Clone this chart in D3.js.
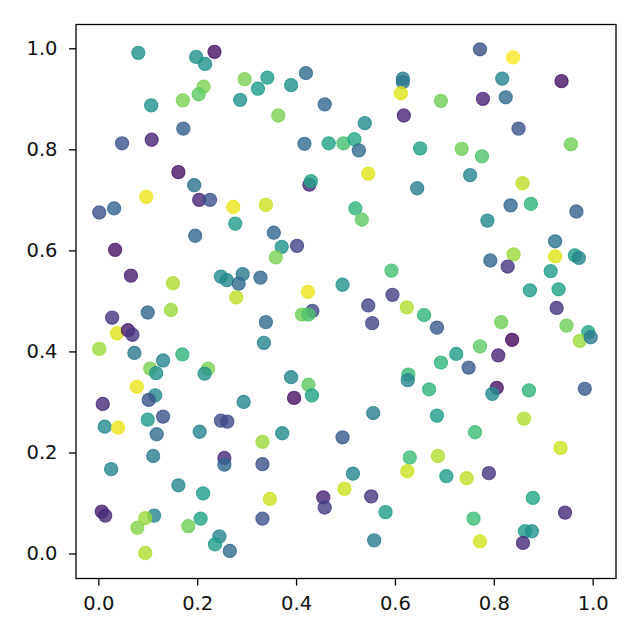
<!DOCTYPE html>
<html>
<head>
<meta charset="utf-8">
<script src="https://cdn.jsdelivr.net/npm/d3@7"></script>
<style>
html,body{margin:0;padding:0;background:#fff;}
svg{display:block;}
</style>
</head>
<body>
<svg id="chart" width="640" height="640"></svg>
<script>
const xs = [0.081,0.198,0.235,0.216,0.296,0.213,0.203,0.171,0.323,0.342,0.287,0.107,0.172,0.048,0.108,0.162,0.194,0.097,0.204,0.226,
0.273,0.339,0.002,0.032,0.390,0.420,0.458,0.364,0.616,0.616,0.612,0.693,0.618,0.539,0.417,0.466,0.496,0.518,0.527,0.651,
0.546,0.427,0.430,0.645,0.520,0.533,0.772,0.839,0.817,0.937,0.778,0.824,0.850,0.956,0.735,0.776,0.752,0.858,0.834,0.875,
0.967,0.787,0.277,0.196,0.034,0.066,0.151,0.248,0.260,0.292,0.284,0.328,0.279,0.028,0.100,0.147,0.038,0.060,0.069,0.002,
0.073,0.170,0.131,0.105,0.117,0.222,0.215,0.078,0.115,0.339,0.335,0.355,0.371,0.402,0.359,0.593,0.494,0.424,0.595,0.546,
0.624,0.659,0.685,0.433,0.412,0.425,0.554,0.693,0.390,0.425,0.396,0.432,0.627,0.626,0.669,0.924,0.840,0.793,0.828,0.924,
0.964,0.972,0.915,0.873,0.931,0.927,0.815,0.947,0.991,0.974,0.996,0.837,0.772,0.809,0.724,0.749,0.806,0.797,0.871,0.984,
0.102,0.009,0.294,0.013,0.040,0.100,0.131,0.118,0.205,0.248,0.261,0.111,0.026,0.255,0.255,0.332,0.332,0.162,0.212,0.007,
0.014,0.113,0.095,0.079,0.182,0.207,0.245,0.236,0.266,0.095,0.347,0.332,0.556,0.685,0.372,0.494,0.630,0.625,0.687,0.704,
0.515,0.498,0.455,0.458,0.552,0.581,0.558,0.861,0.762,0.935,0.745,0.790,0.879,0.944,0.759,0.863,0.877,0.859,0.772];
const ys = [0.991,0.983,0.993,0.969,0.939,0.924,0.909,0.897,0.920,0.942,0.898,0.887,0.841,0.812,0.819,0.755,0.729,0.706,0.700,0.700,
0.686,0.690,0.675,0.683,0.927,0.951,0.889,0.867,0.940,0.933,0.911,0.896,0.867,0.852,0.811,0.812,0.812,0.820,0.798,0.802,
0.752,0.730,0.737,0.723,0.683,0.661,0.998,0.982,0.940,0.935,0.900,0.903,0.841,0.810,0.801,0.786,0.749,0.733,0.689,0.692,
0.677,0.659,0.653,0.629,0.601,0.550,0.535,0.548,0.541,0.553,0.534,0.546,0.507,0.467,0.477,0.482,0.436,0.442,0.433,0.405,
0.397,0.394,0.382,0.366,0.357,0.366,0.356,0.330,0.313,0.458,0.417,0.635,0.607,0.609,0.586,0.560,0.532,0.518,0.512,0.491,
0.487,0.472,0.447,0.480,0.473,0.473,0.456,0.378,0.349,0.334,0.308,0.313,0.354,0.343,0.325,0.618,0.592,0.580,0.568,0.588,
0.590,0.585,0.559,0.521,0.523,0.486,0.458,0.451,0.438,0.421,0.428,0.423,0.410,0.392,0.395,0.368,0.328,0.316,0.323,0.326,
0.304,0.296,0.300,0.251,0.249,0.265,0.271,0.236,0.241,0.263,0.261,0.193,0.167,0.189,0.176,0.221,0.177,0.135,0.119,0.083,
0.075,0.075,0.070,0.051,0.054,0.069,0.034,0.018,0.005,0.001,0.108,0.069,0.278,0.273,0.238,0.230,0.190,0.163,0.193,0.153,
0.158,0.128,0.111,0.091,0.113,0.082,0.026,0.267,0.240,0.209,0.149,0.159,0.110,0.081,0.069,0.044,0.044,0.021,0.024];
const colorValues = [0.50,0.50,0.05,0.50,0.80,0.80,0.75,0.80,0.55,0.55,0.50,0.50,0.30,0.25,0.10,0.05,0.38,0.97,0.10,0.25,
0.97,0.92,0.25,0.32,0.50,0.35,0.33,0.80,0.40,0.40,0.95,0.78,0.10,0.48,0.35,0.58,0.70,0.60,0.35,0.58,
0.95,0.10,0.58,0.42,0.65,0.75,0.25,1.00,0.45,0.05,0.10,0.35,0.25,0.78,0.78,0.72,0.45,0.90,0.33,0.65,
0.30,0.48,0.55,0.33,0.05,0.08,0.88,0.48,0.48,0.40,0.35,0.33,0.90,0.15,0.33,0.85,0.95,0.08,0.15,0.85,
0.40,0.65,0.45,0.80,0.50,0.80,0.50,0.97,0.48,0.35,0.45,0.33,0.50,0.20,0.80,0.70,0.50,0.97,0.18,0.20,
0.88,0.65,0.28,0.22,0.78,0.72,0.20,0.65,0.45,0.75,0.05,0.58,0.68,0.45,0.65,0.38,0.85,0.33,0.15,0.95,
0.55,0.45,0.55,0.55,0.58,0.15,0.78,0.78,0.60,0.85,0.40,0.02,0.75,0.10,0.55,0.28,0.05,0.48,0.65,0.28,
0.25,0.12,0.45,0.48,0.97,0.55,0.25,0.35,0.45,0.22,0.22,0.42,0.45,0.12,0.33,0.85,0.25,0.45,0.55,0.08,
0.12,0.45,0.85,0.82,0.78,0.58,0.45,0.55,0.35,0.88,0.92,0.25,0.42,0.55,0.48,0.28,0.68,0.92,0.88,0.55,
0.45,0.92,0.10,0.18,0.15,0.55,0.42,0.88,0.68,0.92,0.90,0.15,0.60,0.12,0.68,0.55,0.50,0.12,0.93];
const xTicks = [0.0,0.2,0.4,0.6,0.8,1.0];
const yTicks = [0.0,0.2,0.4,0.6,0.8,1.0];

const svg = d3.select("#chart");
const frame = {left:76, right:616, top:24.5, bottom:578.5};
const x = d3.scaleLinear().domain([0,1]).range([98.3,592.7]);
const y = d3.scaleLinear().domain([0,1]).range([553.5,48.3]);
const color = d3.scaleSequential(d3.interpolateViridis).domain([0,1]);

const pts = xs.map((v,i)=>({x:v,y:ys[i],c:colorValues[i]}));

svg.append("g").selectAll("circle").data(pts).join("circle")
  .attr("cx",d=>x(d.x)).attr("cy",d=>y(d.y)).attr("r",6.6)
  .attr("fill",d=>color(d.c)).attr("fill-opacity",0.8)
  .attr("stroke",d=>color(d.c)).attr("stroke-opacity",0.8).attr("stroke-width",1.1);

svg.append("rect").attr("x",frame.left).attr("y",frame.top)
  .attr("width",frame.right-frame.left).attr("height",frame.bottom-frame.top)
  .attr("fill","none").attr("stroke","#000").attr("stroke-width",1.3);

const font = "DejaVu Sans, sans-serif";
const xAxis = svg.append("g").attr("transform",`translate(0,${frame.bottom})`)
  .call(d3.axisBottom(x).tickValues(xTicks).tickFormat(d3.format(".1f")).tickSize(7).tickPadding(10.5));
const yAxis = svg.append("g").attr("transform",`translate(${frame.left},0)`)
  .call(d3.axisLeft(y).tickValues(yTicks).tickFormat(d3.format(".1f")).tickSize(7).tickPadding(11.5));
[xAxis,yAxis].forEach(a=>{
  a.select(".domain").remove();
  a.selectAll(".tick line").attr("stroke","#000").attr("stroke-width",1.3);
  a.selectAll(".tick text").attr("fill","#111").style("font-family",font).style("font-size","19.5px");
});
</script>
</body>
</html>
